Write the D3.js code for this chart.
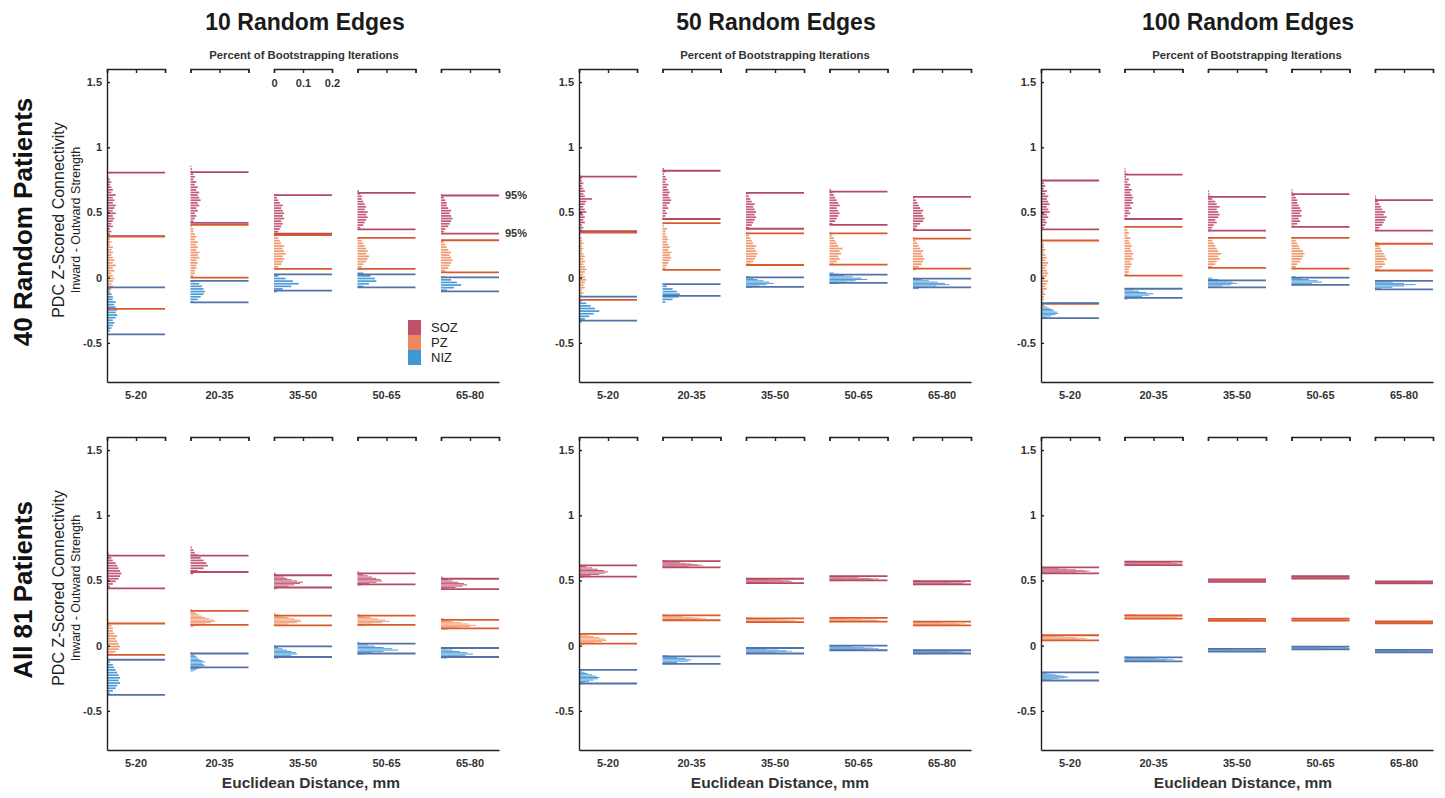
<!DOCTYPE html>
<html>
<head>
<meta charset="utf-8">
<script src="https://cdn.jsdelivr.net/npm/d3@7"></script>
<style>
body { margin: 0; background: #fff; }
svg { font-family: "Liberation Sans", Arial, sans-serif; }
</style>
</head>
<body>
<div id="chart"></div>
<script>
// categories and labels
const distanceBins = ["5-20", "20-35", "35-50", "50-65", "65-80"];
const zones = ["SOZ", "PZ", "NIZ"];
const edgeTitles = ["10 Random Edges", "50 Random Edges", "100 Random Edges"];
const patientRows = ["40 Random Patients", "All 81 Patients"];
const percentTicks = [0, 0.1, 0.2];
const yTicks = [-0.5, 0, 0.5, 1, 1.5];

// 95% bounds [lower, upper] per distance bin, zones in order SOZ, PZ, NIZ
const ci40_10 = [
  [[0.318, 0.805], [-0.24, 0.315], [-0.435, -0.075]],
  [[0.42, 0.81], [0.0, 0.405], [-0.19, -0.025]],
  [[0.338, 0.633], [0.067, 0.327], [-0.10, 0.025]],
  [[0.37, 0.65], [0.067, 0.305], [-0.075, 0.025]],
  [[0.338, 0.63], [0.04, 0.287], [-0.105, 0.002]]
];
const ci40_50 = [
  [[0.356, 0.775], [-0.17, 0.345], [-0.33, -0.146]],
  [[0.45, 0.82], [0.06, 0.418], [-0.14, -0.05]],
  [[0.375, 0.65], [0.097, 0.34], [-0.07, 0.003]],
  [[0.405, 0.66], [0.10, 0.34], [-0.04, 0.023]],
  [[0.365, 0.62], [0.07, 0.30], [-0.075, -0.008]]
];
const ci40_100 = [
  [[0.37, 0.745], [-0.20, 0.285], [-0.31, -0.195]],
  [[0.45, 0.79], [0.015, 0.39], [-0.155, -0.085]],
  [[0.36, 0.62], [0.075, 0.305], [-0.075, -0.02]],
  [[0.39, 0.64], [0.07, 0.305], [-0.055, 0.0]],
  [[0.36, 0.595], [0.055, 0.26], [-0.09, -0.025]]
];
const ci81_10 = [
  [[0.44, 0.69], [-0.07, 0.17], [-0.377, -0.108]],
  [[0.565, 0.69], [0.16, 0.267], [-0.167, -0.06]],
  [[0.446, 0.54], [0.156, 0.23], [-0.087, -0.005]],
  [[0.47, 0.554], [0.16, 0.23], [-0.06, 0.015]],
  [[0.433, 0.513], [0.133, 0.197], [-0.087, -0.018]]
];
const ci81_50 = [
  [[0.53, 0.615], [0.015, 0.09], [-0.29, -0.185]],
  [[0.60, 0.648], [0.195, 0.233], [-0.14, -0.082]],
  [[0.48, 0.513], [0.18, 0.21], [-0.06, -0.018]],
  [[0.50, 0.533], [0.185, 0.213], [-0.035, 0.0]],
  [[0.47, 0.495], [0.156, 0.185], [-0.06, -0.035]]
];
const ci81_100 = [
  [[0.554, 0.60], [0.04, 0.08], [-0.267, -0.205]],
  [[0.618, 0.644], [0.208, 0.233], [-0.12, -0.09]],
  [[0.49, 0.508], [0.19, 0.205], [-0.046, -0.025]],
  [[0.515, 0.533], [0.192, 0.208], [-0.028, -0.008]],
  [[0.477, 0.492], [0.172, 0.187], [-0.052, -0.033]]
];

// histograms: [first bin start, bin width, fraction of iterations per bin (bottom -> top)]
const hist40_10 = [
  [[0.32, .02, [.01,.015,.01,.02,.015,.02,.025,.02,.03,.02,.025,.03,.02,.025,.02,.03,.015,.02,.015,.01,.015,.01,.005]],
   [-0.24, .02, [.005,.01,.005,.01,.01,.015,.01,.015,.02,.015,.02,.025,.02,.015,.025,.02,.03,.02,.025,.02,.015,.02,.015,.02,.01,.015,.01,.01]],
   [-0.42, .02, [.01,.015,.02,.025,.02,.03,.035,.03,.035,.03,.025,.03,.02,.02,.015,.01,.01]]],
  [[0.42, .02, [.01,.015,.02,.015,.025,.02,.03,.025,.035,.03,.025,.03,.02,.025,.015,.02,.01,.015,.01,.005,.005,.003]],
   [0.0, .02, [.01,.015,.015,.02,.02,.025,.02,.03,.025,.03,.02,.025,.02,.025,.015,.02,.015,.01,.01,.005]],
   [-0.2, .02, [.01,.025,.035,.045,.05,.045,.04,.03,.015]]],
  [[0.34, .02, [.015,.02,.025,.03,.025,.035,.03,.035,.03,.025,.03,.02,.015,.01,.005]],
   [0.07, .02, [.015,.025,.03,.035,.03,.04,.035,.03,.035,.025,.02,.015,.01]],
   [-0.12, .02, [.01,.03,.06,.085,.065,.04,.015]]],
  [[0.37, .02, [.01,.02,.025,.03,.035,.03,.035,.025,.03,.025,.02,.015,.015,.01,.005]],
   [0.07, .02, [.015,.02,.03,.035,.04,.03,.035,.03,.025,.02,.015,.01]],
   [-0.08, .02, [.02,.04,.065,.06,.045,.02]]],
  [[0.34, .02, [.01,.015,.025,.03,.035,.04,.035,.03,.035,.025,.02,.02,.015,.01,.005]],
   [0.04, .02, [.015,.025,.03,.035,.04,.035,.03,.035,.025,.02,.015,.01]],
   [-0.11, .02, [.02,.045,.07,.055,.035,.015]]]
];
const hist40_50 = [
  [[0.35, .02, [.01,.015,.01,.02,.015,.02,.015,.025,.02,.015,.02,.025,.045,.02,.015,.02,.015,.01,.015,.01,.01,.005]],
   [-0.17, .02, [.005,.01,.015,.01,.02,.015,.02,.025,.02,.015,.02,.025,.02,.015,.02,.015,.02,.015,.01,.015,.01,.015,.01,.01,.005,.005]],
   [-0.35, .02, [.01,.02,.035,.05,.07,.055,.04,.025,.01]]],
  [[0.44, .02, [.005,.01,.015,.01,.02,.015,.025,.03,.025,.02,.025,.02,.015,.02,.01,.015,.01,.005,.01,.005]],
   [0.06, .02, [.01,.015,.02,.025,.03,.025,.03,.02,.025,.02,.015,.02,.015,.01,.01,.015,.005,.005]],
   [-0.2, .02, [.01,.035,.055,.06,.05,.035,.015]]],
  [[0.37, .02, [.01,.02,.025,.03,.035,.03,.035,.03,.025,.03,.02,.015,.01,.005]],
   [0.09, .02, [.015,.025,.03,.035,.04,.035,.03,.035,.025,.02,.015,.01,.005]],
   [-0.08, .01, [.02,.045,.07,.095,.08,.06,.04,.025,.01]]],
  [[0.40, .02, [.01,.02,.025,.03,.035,.03,.025,.035,.03,.025,.02,.015,.01,.005]],
   [0.09, .02, [.015,.025,.035,.03,.04,.035,.045,.03,.025,.02,.015,.01,.005]],
   [-0.05, .01, [.03,.06,.09,.13,.11,.08,.05,.03,.015]]],
  [[0.36, .02, [.01,.015,.025,.035,.04,.035,.03,.035,.025,.02,.015,.01,.005]],
   [0.05, .02, [.01,.02,.03,.035,.04,.035,.03,.035,.025,.02,.015,.01,.005]],
   [-0.09, .01, [.02,.05,.08,.125,.11,.085,.055,.03,.01]]]
];
const hist40_100 = [
  [[0.37, .02, [.01,.015,.02,.015,.025,.02,.03,.025,.02,.03,.025,.02,.025,.015,.02,.01,.015,.01,.005]],
   [-0.2, .02, [.005,.01,.01,.015,.01,.02,.015,.02,.025,.015,.02,.025,.02,.015,.02,.025,.015,.02,.015,.01,.015,.01,.01,.005,.005]],
   [-0.32, .01, [.01,.02,.035,.05,.06,.055,.045,.04,.03,.02,.01,.005]]],
  [[0.44, .02, [.005,.01,.02,.015,.025,.02,.03,.025,.03,.025,.02,.025,.015,.02,.01,.015,.005,.01,.005,.003]],
   [0.01, .02, [.01,.015,.015,.02,.025,.02,.03,.025,.03,.025,.02,.025,.02,.015,.02,.01,.015,.01,.005]],
   [-0.17, .01, [.01,.03,.06,.085,.1,.075,.05,.03,.015]]],
  [[0.35, .02, [.01,.015,.02,.03,.025,.035,.04,.035,.03,.04,.03,.025,.015,.01,.005,.003]],
   [0.07, .02, [.015,.025,.03,.04,.035,.045,.035,.03,.025,.02,.015,.01]],
   [-0.08, .01, [.02,.05,.08,.1,.085,.06,.035,.015]]],
  [[0.38, .02, [.01,.02,.03,.025,.035,.03,.035,.03,.025,.02,.02,.015,.01,.005,.003]],
   [0.07, .02, [.015,.02,.03,.035,.04,.045,.04,.03,.025,.02,.015,.01]],
   [-0.06, .01, [.03,.07,.105,.09,.06,.035,.015]]],
  [[0.35, .02, [.01,.015,.025,.03,.035,.04,.03,.035,.025,.02,.015,.01,.005,.003]],
   [0.05, .02, [.015,.025,.035,.03,.04,.035,.03,.025,.02,.015,.01]],
   [-0.09, .01, [.02,.06,.1,.14,.1,.06,.025]]]
];
const hist81_10 = [
  [[0.44, .02, [.01,.02,.03,.04,.045,.05,.045,.04,.035,.03,.02,.015,.01,.005]],
   [-0.08, .02, [.02,.03,.04,.045,.04,.035,.03,.035,.025,.02,.02,.015,.01,.005]],
   [-0.38, .02, [.01,.02,.03,.035,.045,.04,.045,.04,.035,.03,.025,.02,.01,.005]]],
  [[0.54, .02, [.01,.025,.045,.06,.055,.045,.035,.025,.015,.01,.005]],
   [0.14, .01, [.01,.03,.05,.07,.085,.08,.065,.05,.04,.03,.02,.015,.01,.005]],
   [-0.2, .01, [.01,.02,.03,.04,.05,.045,.04,.05,.04,.03,.025,.02,.015,.01,.005]]],
  [[0.43, .01, [.01,.03,.05,.07,.09,.1,.08,.06,.045,.035,.02,.01,.005]],
   [0.15, .01, [.02,.05,.08,.095,.09,.07,.05,.03,.015,.005]],
   [-0.1, .01, [.015,.035,.06,.08,.075,.06,.045,.03,.015,.005]]],
  [[0.46, .01, [.015,.04,.065,.085,.08,.065,.05,.035,.02,.01,.005]],
   [0.15, .01, [.02,.05,.085,.11,.095,.07,.045,.025,.01]],
   [-0.07, .01, [.02,.05,.09,.14,.12,.09,.06,.035,.015,.005]]],
  [[0.43, .01, [.02,.05,.075,.09,.08,.06,.04,.025,.01,.005]],
   [0.12, .01, [.025,.06,.1,.12,.095,.07,.04,.02,.01]],
   [-0.1, .01, [.02,.05,.085,.11,.09,.065,.04,.02,.01]]]
];
const hist81_50 = [
  [[0.52, .01, [.02,.04,.07,.09,.1,.085,.065,.045,.025,.01]],
   [0.005, .01, [.02,.05,.08,.095,.09,.07,.05,.03,.01]],
   [-0.3, .01, [.01,.02,.035,.05,.065,.07,.06,.045,.03,.02,.01,.005]]],
  [[0.595, .005, [.02,.05,.09,.13,.14,.12,.1,.08,.06,.04,.02,.01]],
   [0.19, .005, [.03,.07,.12,.15,.13,.1,.07,.045,.025,.01]],
   [-0.145, .01, [.02,.05,.09,.1,.08,.05,.02]]],
  [[0.475, .005, [.03,.08,.13,.16,.15,.12,.08,.045,.015]],
   [0.175, .005, [.04,.1,.15,.17,.14,.1,.05,.02]],
   [-0.065, .005, [.02,.06,.1,.14,.16,.14,.11,.07,.04,.015]]],
  [[0.495, .005, [.04,.1,.15,.17,.14,.1,.05,.02]],
   [0.18, .005, [.05,.12,.17,.16,.11,.06,.02]],
   [-0.04, .005, [.03,.08,.13,.17,.15,.12,.08,.04,.015]]],
  [[0.465, .005, [.05,.12,.17,.18,.13,.07,.02]],
   [0.15, .005, [.04,.1,.16,.18,.15,.1,.05,.02]],
   [-0.065, .005, [.05,.12,.17,.18,.13,.07,.02]]]
];
const hist81_100 = [
  [[0.55, .005, [.03,.07,.12,.16,.17,.15,.12,.09,.06,.03,.01]],
   [0.035, .005, [.03,.08,.13,.16,.15,.12,.08,.05,.025,.01]],
   [-0.27, .005, [.01,.02,.04,.06,.08,.095,.09,.08,.065,.05,.035,.02,.01,.005]]],
  [[0.615, .005, [.05,.12,.18,.2,.16,.1,.04]],
   [0.205, .005, [.05,.12,.18,.2,.16,.1,.04]],
   [-0.125, .005, [.04,.09,.14,.17,.15,.11,.06,.02]]],
  [[0.49, .005, [.12,.2,.2,.12]],
   [0.19, .005, [.15,.2,.14]],
   [-0.046, .005, [.1,.2,.18,.08]]],
  [[0.515, .005, [.12,.2,.19,.1]],
   [0.19, .005, [.13,.2,.19,.1]],
   [-0.028, .005, [.12,.2,.19,.1]]],
  [[0.477, .005, [.15,.2,.14]],
   [0.172, .005, [.15,.2,.14]],
   [-0.052, .005, [.12,.2,.19,.1]]]
];

// layout
const W = 1445, H = 798;
const panelLeft = [107, 579, 1041];
const rowTop = [69, 437];
const panelW = 392, panelH = 313;
const titleX = [305, 776, 1248];
const xTitleX = [311, 780, 1243];

const zoneFill = { SOZ: "#c45c79", PZ: "#ef9b72", NIZ: "#4c9cd8" };
const zoneLine = { SOZ: "#b54a63", PZ: "#da5a2c", NIZ: "#5571a9" };
const legendFill = { SOZ: "#c0506b", PZ: "#ec8a5f", NIZ: "#3f97d4" };

const svg = d3.select("#chart").append("svg")
  .attr("width", W).attr("height", H);

const panels = [
  { row: 0, col: 0, ci: ci40_10, hist: hist40_10 },
  { row: 0, col: 1, ci: ci40_50, hist: hist40_50 },
  { row: 0, col: 2, ci: ci40_100, hist: hist40_100 },
  { row: 1, col: 0, ci: ci81_10, hist: hist81_10 },
  { row: 1, col: 1, ci: ci81_50, hist: hist81_50 },
  { row: 1, col: 2, ci: ci81_100, hist: hist81_100 }
];

function styleAxis(sel, size) {
  sel.select(".domain").attr("stroke", "#222").attr("stroke-width", 1.4);
  sel.selectAll(".tick line").attr("stroke", "#222").attr("stroke-width", 1.4);
  sel.selectAll("text").attr("font-size", size).attr("font-weight", "bold")
    .attr("fill", "#333").attr("font-family", "Liberation Sans, Arial, sans-serif");
}

function drawPanel(p) {
  const left = panelLeft[p.col], top = rowTop[p.row];
  const g = svg.append("g");
  const y = d3.scaleLinear().domain([-0.8, 1.6]).range([top + panelH, top]);
  const x = d3.scaleBand().domain(distanceBins)
    .range([left, left + panelW]).paddingInner(0.305).paddingOuter(0).align(0);
  const pct = d3.scaleLinear().domain([0, 0.2]).range([0, x.bandwidth()]);

  distanceBins.forEach((bin, i) => {
    const x0 = x(bin);
    // histograms
    zones.forEach((z, k) => {
      const [start, step, vals] = p.hist[i][k];
      const dy = y(start) - y(start + step);
      const h = dy >= 2 ? dy - 0.9 : (dy >= 1.2 ? dy - 0.3 : dy);
      g.append("g").selectAll("rect").data(vals).join("rect")
        .attr("x", x0)
        .attr("y", (d, j) => y(start + (j + 1) * step))
        .attr("width", d => pct(d))
        .attr("height", h)
        .attr("fill", zoneFill[z]);
    });
    // 95% bound lines
    zones.forEach((z, k) => {
      g.append("g").selectAll("line").data(p.ci[i][k]).join("line")
        .attr("x1", x0).attr("x2", x0 + x.bandwidth())
        .attr("y1", d => y(d)).attr("y2", d => y(d))
        .attr("stroke", zoneLine[z]).attr("stroke-width", 1.8);
    });
    // percent bracket on top
    const showLabels = p.row === 0 && p.col === 0 && i === 2;
    const top_ax = g.append("g").attr("transform", `translate(${x0},${top})`)
      .call(d3.axisBottom(pct).tickValues(percentTicks).tickSize(4).tickPadding(6)
        .tickFormat(showLabels ? (d => String(d)) : ""));
    styleAxis(top_ax, 11);
  });

  // left axis
  const yAx = g.append("g").attr("transform", `translate(${left},0)`)
    .call(d3.axisLeft(y).tickValues(yTicks).tickSizeInner(-3).tickSizeOuter(0)
      .tickPadding(5).tickFormat(d => String(d)));
  styleAxis(yAx, 11);

  // bottom axis
  const xAx = g.append("g").attr("transform", `translate(0,${top + panelH})`)
    .call(d3.axisBottom(x).tickSize(0).tickPadding(9));
  styleAxis(xAx, 11);

  if (p.row === 0) {
    svg.append("text").attr("x", titleX[p.col]).attr("y", 30)
      .attr("text-anchor", "middle").attr("font-size", 23).attr("font-weight", "bold")
      .attr("fill", "#1a1a1a").text(edgeTitles[p.col]);
    svg.append("text").attr("x", titleX[p.col] - 1).attr("y", 59)
      .attr("text-anchor", "middle").attr("font-size", 11.3).attr("font-weight", "bold")
      .attr("fill", "#333").text("Percent of Bootstrapping Iterations");
  } else {
    svg.append("text").attr("x", xTitleX[p.col]).attr("y", 788)
      .attr("text-anchor", "middle").attr("font-size", 15.5).attr("font-weight", "bold")
      .attr("fill", "#333").text("Euclidean Distance, mm");
  }

  if (p.col === 0) {
    const cy = top + 153;
    svg.append("text").attr("transform", `translate(32,${cy}) rotate(-90)`)
      .attr("text-anchor", "middle").attr("font-size", 26).attr("font-weight", "bold")
      .attr("fill", "#111").text(patientRows[p.row]);
    svg.append("text").attr("transform", `translate(64,${cy - 2}) rotate(-90)`)
      .attr("text-anchor", "middle").attr("font-size", 16)
      .attr("fill", "#222").text("PDC Z-Scored Connectivity");
    svg.append("text").attr("transform", `translate(80,${cy - 2}) rotate(-90)`)
      .attr("text-anchor", "middle").attr("font-size", 12.5)
      .attr("fill", "#222").text("Inward - Outward Strength");
  }

  if (p.row === 0 && p.col === 0) {
    // 95% annotations next to the last bin
    const last = p.ci[4][0];
    g.selectAll(".pct95").data(last.slice().reverse()).join("text")
      .attr("x", x(distanceBins[4]) + x.bandwidth() + 6)
      .attr("y", d => y(d)).attr("dy", "0.35em")
      .attr("font-size", 11).attr("font-weight", "bold").attr("fill", "#333")
      .text("95%");
    // legend
    const lg = g.append("g").attr("transform", "translate(408,320)");
    zones.forEach((z, k) => {
      lg.append("rect").attr("x", 0).attr("y", k * 15).attr("width", 13).attr("height", 15)
        .attr("fill", legendFill[z]);
      lg.append("text").attr("x", 23).attr("y", k * 15 + 7.5).attr("dy", "0.35em")
        .attr("font-size", 13).attr("fill", "#222").text(z);
    });
  }
}

panels.forEach(drawPanel);
</script>
</body>
</html>
